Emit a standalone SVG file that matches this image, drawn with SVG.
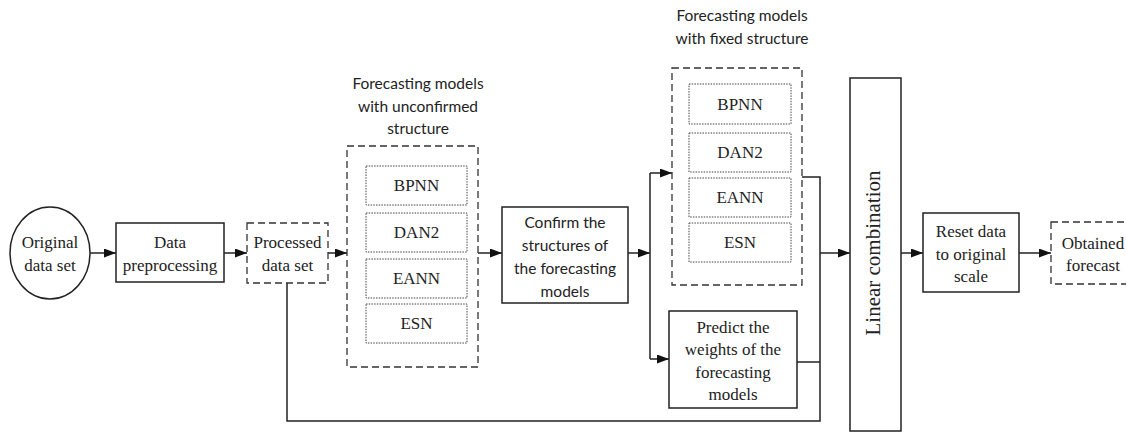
<svg xmlns="http://www.w3.org/2000/svg" width="1126" height="433" viewBox="0 0 1126 433">
  <defs>
    <marker id="arrow" markerWidth="13" markerHeight="10" refX="12" refY="4.5" orient="auto" markerUnits="userSpaceOnUse">
      <path d="M0,0 L12,4.5 L0,9 z" fill="#111"/>
    </marker>
    <style>
      .box { fill: #fff; stroke: #222; stroke-width: 1.5; }
      .dash { fill: none; stroke: #333; stroke-width: 1.3; stroke-dasharray: 7 4; }
      .dot { fill: none; stroke: #444; stroke-width: 1; stroke-dasharray: 1.5 1.2; }
      .wire { fill: none; stroke: #222; stroke-width: 1.5; }
      .serif { font-family: "Liberation Serif", "Times New Roman", serif; font-size: 17px; fill: #222; text-anchor: middle; }
      .sans { font-family: Lato, "Liberation Sans", sans-serif; font-size: 15.5px; fill: #222; text-anchor: middle; }
    </style>
  </defs>
  <rect width="1126" height="433" fill="#fff"/>

  <!-- connectors -->
  <g id="connectors">
    <line class="wire" x1="90" y1="253" x2="116" y2="253" marker-end="url(#arrow)"/>
    <line class="wire" x1="224" y1="253" x2="247" y2="253" marker-end="url(#arrow)"/>
    <line class="wire" x1="328" y1="253" x2="347" y2="253" marker-end="url(#arrow)"/>
    <line class="wire" x1="478" y1="253" x2="502" y2="253" marker-end="url(#arrow)"/>
    <line class="wire" x1="628" y1="253" x2="650" y2="253" marker-end="url(#arrow)"/>
    <line class="wire" x1="650" y1="173" x2="650" y2="359"/>
    <line class="wire" x1="650" y1="173" x2="672" y2="173" marker-end="url(#arrow)"/>
    <line class="wire" x1="650" y1="359" x2="669" y2="359" marker-end="url(#arrow)"/>
    <polyline class="wire" points="802,177 820,177 820,421 287,421 287,283"/>
    <line class="wire" x1="797" y1="362" x2="820" y2="362"/>
    <line class="wire" x1="820" y1="253" x2="850" y2="253" marker-end="url(#arrow)"/>
    <line class="wire" x1="901" y1="253" x2="923" y2="253" marker-end="url(#arrow)"/>
    <line class="wire" x1="1019" y1="253" x2="1051" y2="253" marker-end="url(#arrow)"/>
  </g>

  <g id="original">
    <ellipse class="box" cx="50" cy="253" rx="40" ry="46"/>
    <text class="serif" x="50" y="248">Original</text>
    <text class="serif" x="50" y="271">data set</text>
  </g>

  <g id="preprocessing">
    <rect class="box" x="116" y="223" width="108" height="59"/>
    <text class="serif" x="170" y="248">Data</text>
    <text class="serif" x="170" y="271">preprocessing</text>
  </g>

  <g id="processed">
    <rect class="dash" x="247" y="223" width="81" height="60"/>
    <text class="serif" x="287.5" y="248">Processed</text>
    <text class="serif" x="287.5" y="271">data set</text>
  </g>

  <g id="unconfirmed">
    <text class="sans" x="418" y="89">Forecasting models</text>
    <text class="sans" x="418" y="112">with unconfirmed</text>
    <text class="sans" x="418" y="134">structure</text>
    <rect class="dash" x="347" y="146" width="131" height="221"/>
    <rect class="dot" x="366" y="166" width="101" height="39"/>
    <text class="serif" x="416.5" y="191">BPNN</text>
    <rect class="dot" x="366" y="213" width="101" height="39"/>
    <text class="serif" x="416.5" y="238">DAN2</text>
    <rect class="dot" x="366" y="259" width="101" height="39"/>
    <text class="serif" x="416.5" y="284">EANN</text>
    <rect class="dot" x="366" y="304" width="101" height="39"/>
    <text class="serif" x="416.5" y="329">ESN</text>
  </g>

  <g id="confirm">
    <rect class="box" x="502" y="207" width="126" height="96"/>
    <text class="sans" x="565" y="228">Confirm the</text>
    <text class="sans" x="565" y="251">structures of</text>
    <text class="sans" x="565" y="274">the forecasting</text>
    <text class="sans" x="565" y="297">models</text>
  </g>

  <g id="fixed">
    <text class="sans" x="742" y="21">Forecasting models</text>
    <text class="sans" x="742" y="44">with fixed structure</text>
    <rect class="dash" x="672" y="68" width="130" height="217"/>
    <rect class="dot" x="689" y="84" width="102" height="40"/>
    <text class="serif" x="740" y="110">BPNN</text>
    <rect class="dot" x="689" y="133" width="102" height="39"/>
    <text class="serif" x="740" y="158">DAN2</text>
    <rect class="dot" x="689" y="178" width="102" height="39"/>
    <text class="serif" x="740" y="203">EANN</text>
    <rect class="dot" x="689" y="223" width="102" height="39"/>
    <text class="serif" x="740" y="248">ESN</text>
  </g>

  <g id="predict">
    <rect class="box" x="669" y="311" width="128" height="97"/>
    <text class="serif" x="733" y="333">Predict the</text>
    <text class="serif" x="733" y="355">weights of the</text>
    <text class="serif" x="733" y="378">forecasting</text>
    <text class="serif" x="733" y="400">models</text>
  </g>

  <g id="linear">
    <rect class="box" x="850" y="78" width="51" height="353"/>
    <text class="serif" style="font-size:21px" transform="translate(880,253) rotate(-90)" x="0" y="0">Linear combination</text>
  </g>

  <g id="reset">
    <rect class="box" x="923" y="213" width="96" height="79"/>
    <text class="serif" x="971" y="237">Reset data</text>
    <text class="serif" x="971" y="260">to original</text>
    <text class="serif" x="971" y="282">scale</text>
  </g>

  <g id="obtained">
    <rect class="dash" x="1051" y="222" width="90" height="62"/>
    <text class="serif" x="1093" y="249">Obtained</text>
    <text class="serif" x="1093" y="271">forecast</text>
  </g>
</svg>
